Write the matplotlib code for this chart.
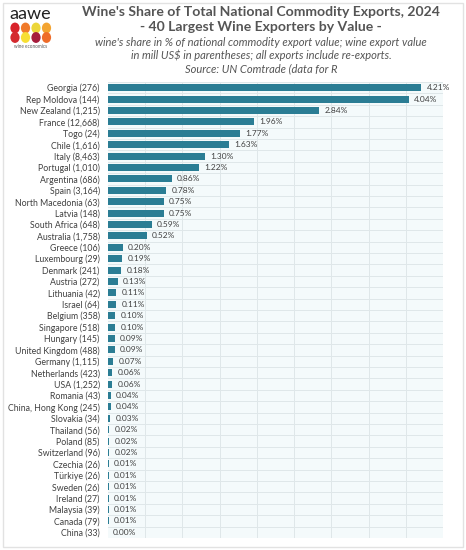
import numpy as np
import matplotlib
matplotlib.use("Agg")
import matplotlib.pyplot as plt
from matplotlib.patches import Circle, FancyBboxPatch

# ------------- data -------------
countries = [
    "Georgia (276)", "Rep Moldova (144)", "New Zealand (1,215)", "France (12,668)",
    "Togo (24)", "Chile (1,616)", "Italy (8,463)", "Portugal (1,010)",
    "Argentina (686)", "Spain (3,164)", "North Macedonia (63)", "Latvia (148)",
    "South Africa (648)", "Australia (1,758)", "Greece (106)", "Luxembourg (29)",
    "Denmark (241)", "Austria (272)", "Lithuania (42)", "Israel (64)",
    "Belgium (358)", "Singapore (518)", "Hungary (145)", "United Kingdom (488)",
    "Germany (1,115)", "Netherlands (423)", "USA (1,252)", "Romania (43)",
    "China, Hong Kong (245)", "Slovakia (34)", "Thailand (56)", "Poland (85)",
    "Switzerland (96)", "Czechia (26)", "Türkiye (26)", "Sweden (26)",
    "Ireland (27)", "Malaysia (39)", "Canada (79)", "China (33)",
]
share = [
    4.21, 4.04, 2.84, 1.96, 1.77, 1.63, 1.30, 1.22, 0.86, 0.78,
    0.75, 0.75, 0.59, 0.52, 0.20, 0.19, 0.18, 0.13, 0.11, 0.11,
    0.10, 0.10, 0.09, 0.09, 0.07, 0.06, 0.06, 0.04, 0.04, 0.03,
    0.02, 0.02, 0.02, 0.01, 0.01, 0.01, 0.01, 0.01, 0.01, 0.00,
]

title1 = "Wine's Share of Total National Commodity Exports, 2024"
title2 = "- 40 Largest Wine Exporters by Value -"
subtitle_lines = [
    "wine's share in % of national commodity export value; wine export value",
    "in mill US$ in parentheses; all exports include re-exports.",
    "Source: UN Comtrade (data for R",
]

bar_color = "#2b7d94"
text_color = "#404040"
title_color = "#555555"

plt.rcParams["font.family"] = ["Lato", "DejaVu Sans"]

W, H = 466, 550
fig = plt.figure(figsize=(W / 100, H / 100), dpi=100)
fig.patch.set_facecolor("white")

# outer light frame
fig.patches.append(FancyBboxPatch((3 / W, 3 / H), 460 / W, 544 / H,
                                  boxstyle="square,pad=0", transform=fig.transFigure,
                                  facecolor="none", edgecolor="#e2e2e2", linewidth=1.0))

# axes placement (pixels)
left, right, top, bottom = 108, 443, 82, 538
ax = fig.add_axes([left / W, (H - bottom) / H, (right - left) / W, (bottom - top) / H])
ax.set_facecolor("#f4fafb")

n = len(countries)
y = np.arange(n)
ax.barh(y, share, height=0.62, color=bar_color, zorder=3)
ax.set_xlim(0, 4.5)
ax.set_ylim(n - 0.5, -0.5)

# grid
for gx in np.arange(0.5, 4.51, 0.5):
    ax.axvline(gx, color="#dfe7e9", linewidth=0.7, zorder=1)
for gy in np.arange(-0.5, n, 1.0):
    ax.axhline(gy, color="#dfe7e9", linewidth=0.7, zorder=1)

ax.set_yticks(y)
ax.set_yticklabels(countries, fontsize=6.3, color=text_color)
ax.set_xticks([])
ax.tick_params(axis="y", length=0, pad=6)
for s in ax.spines.values():
    s.set_visible(False)

for yi, v in zip(y, share):
    ax.text(v + 0.07, yi, f"{v:.2f}%", va="center", ha="left",
            fontsize=6.0, color=text_color, zorder=4, clip_on=False)

# titles
fig.text(261 / W, 1 - 12 / H, title1, ha="center", va="center",
         fontsize=10.1, fontweight="bold", color=title_color)
fig.text(261 / W, 1 - 27 / H, title2, ha="center", va="center",
         fontsize=10.1, fontweight="bold", color=title_color)
for i, line in enumerate(subtitle_lines):
    fig.text(261 / W, 1 - (42 + i * 13.5) / H, line, ha="center", va="center",
             fontsize=8.0, style="italic", color=title_color)

# logo
fig.text(9 / W, 1 - 14 / H, "aawe", ha="left", va="center",
         fontsize=13, color="#222222")
dot_colors = [["#d8232a", "#f07a2a", "#ecd63a", "#f3a431"],
              ["#d42a2f", "#f7df34", "#a61c3c", "#ee6c2a"]]
for r, row in enumerate(dot_colors):
    for c, col in enumerate(row):
        fig.patches.append(Circle(((15 + c * 10.5) / W, 1 - (28 + r * 9.5) / H),
                                  radius=4.6 / W, transform=fig.transFigure,
                                  facecolor=col, edgecolor="none"))
fig.text(31 / W, 1 - 46 / H, "wine economics", ha="center", va="center",
         fontsize=3.3, color="#555555")

fig.savefig("out.png", dpi=100)
